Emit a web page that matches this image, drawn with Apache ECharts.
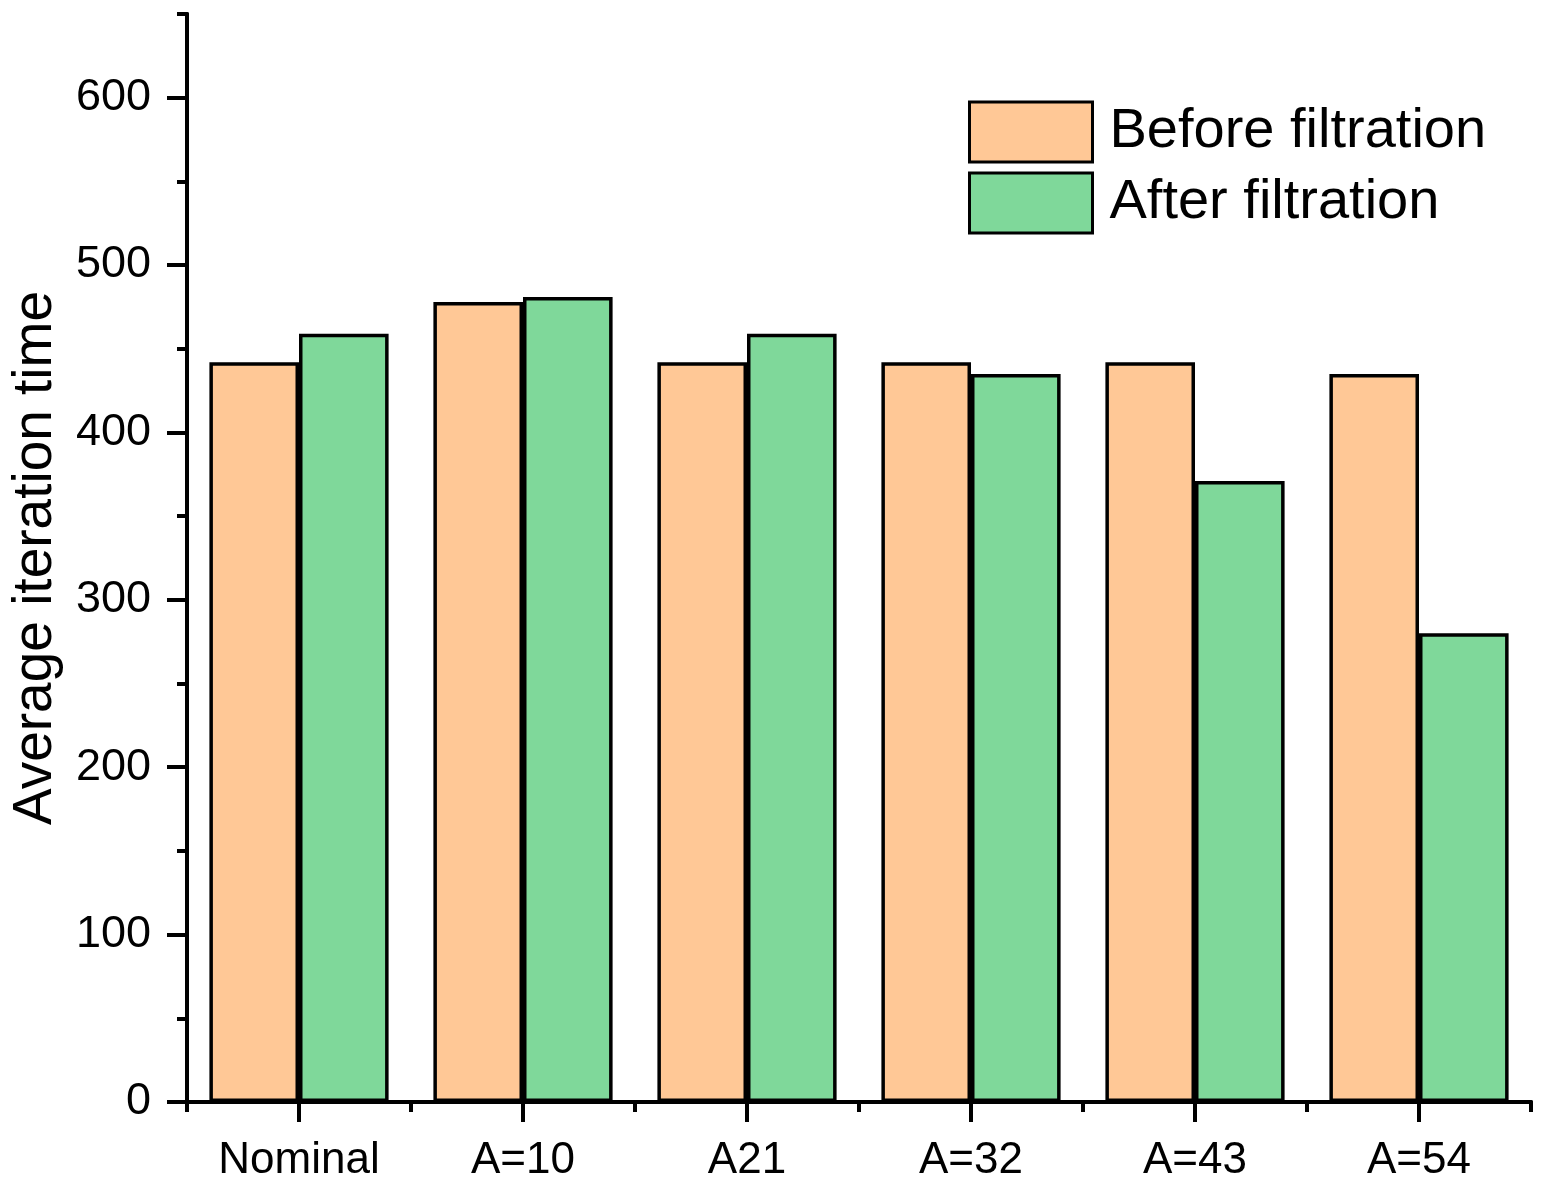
<!DOCTYPE html>
<html>
<head>
<meta charset="utf-8">
<script src="https://cdn.jsdelivr.net/npm/echarts@6/dist/echarts.min.js"></script>
<style>html,body{margin:0;padding:0;background:#fff}#c{width:1550px;height:1192px}</style>
</head>
<body>
<div id="c"></div>
<script>
const categories = ['Nominal', 'A=10', 'A21', 'A=32', 'A=43', 'A=54'];
const beforeValues = [442, 478, 442, 442, 442, 435];
const afterValues = [459, 481, 459, 435, 371, 280];
const yMajorTicks = [0, 100, 200, 300, 400, 500, 600];
const yMinorTicks = [50, 150, 250, 350, 450, 550, 650];

const FONT = '"Liberation Sans", Arial, sans-serif';
const chart = echarts.init(document.getElementById('c'), null, {renderer: 'canvas'});
const axisLine = {show: true, lineStyle: {color: '#000', width: 4}};
chart.setOption({
  animation: false,
  backgroundColor: '#fff',
  grid: {left: 187, right: 19, top: 14, bottom: 90, containLabel: false, outerBoundsMode: 'none'},
  legend: {
    orient: 'vertical',
    left: 968, top: 100, padding: 0,
    icon: 'rect',
    itemWidth: 123, itemHeight: 60, itemGap: 7,
    itemStyle: {borderColor: '#000', borderWidth: 3},
    textStyle: {fontFamily: FONT, fontSize: 56, color: '#000', padding: [4, 0, 0, 12], lineHeight: 60},
    data: ['Before filtration', 'After filtration']
  },
  xAxis: [
    {
      type: 'category', data: categories, position: 'bottom',
      axisLine: axisLine,
      axisTick: {show: true, alignWithLabel: true, length: 20, lineStyle: {color: '#000', width: 4}},
      axisLabel: {fontFamily: FONT, fontSize: 44, color: '#000', margin: 37},
      splitLine: {show: false}
    },
    {
      type: 'category', data: categories, position: 'bottom', gridIndex: 0,
      axisLine: axisLine,
      axisTick: {show: true, length: 10, lineStyle: {color: '#000', width: 4}},
      axisLabel: {show: false},
      splitLine: {show: false}
    }
  ],
  yAxis: [
    {
      type: 'value', min: 0, max: 650, interval: 50,
      name: 'Average iteration time', nameLocation: 'middle', nameGap: 124, nameRotate: 90,
      nameTextStyle: {fontFamily: FONT, fontSize: 55, color: '#000'},
      axisLine: axisLine,
      axisTick: {show: true, length: 20, customValues: yMajorTicks, lineStyle: {color: '#000', width: 4}},
      axisLabel: {fontFamily: FONT, fontSize: 45, color: '#000', margin: 36, customValues: yMajorTicks},
      splitLine: {show: false}
    },
    {
      type: 'value', min: 0, max: 650, interval: 50, position: 'left',
      axisLine: axisLine,
      axisTick: {show: true, length: 10, customValues: yMinorTicks, lineStyle: {color: '#000', width: 4}},
      axisLabel: {show: false},
      splitLine: {show: false}
    }
  ],
  series: [
    {
      name: 'Before filtration', type: 'bar', data: beforeValues,
      xAxisIndex: 0, yAxisIndex: 0,
      barWidth: '40%', barGap: '0%',
      itemStyle: {color: '#FFC896', borderColor: '#000', borderWidth: 3.5}
    },
    {
      name: 'After filtration', type: 'bar', data: afterValues,
      xAxisIndex: 0, yAxisIndex: 0,
      barWidth: '40%', barGap: '0%',
      itemStyle: {color: '#7FD89A', borderColor: '#000', borderWidth: 3.5}
    }
  ]
});
</script>
</body>
</html>
